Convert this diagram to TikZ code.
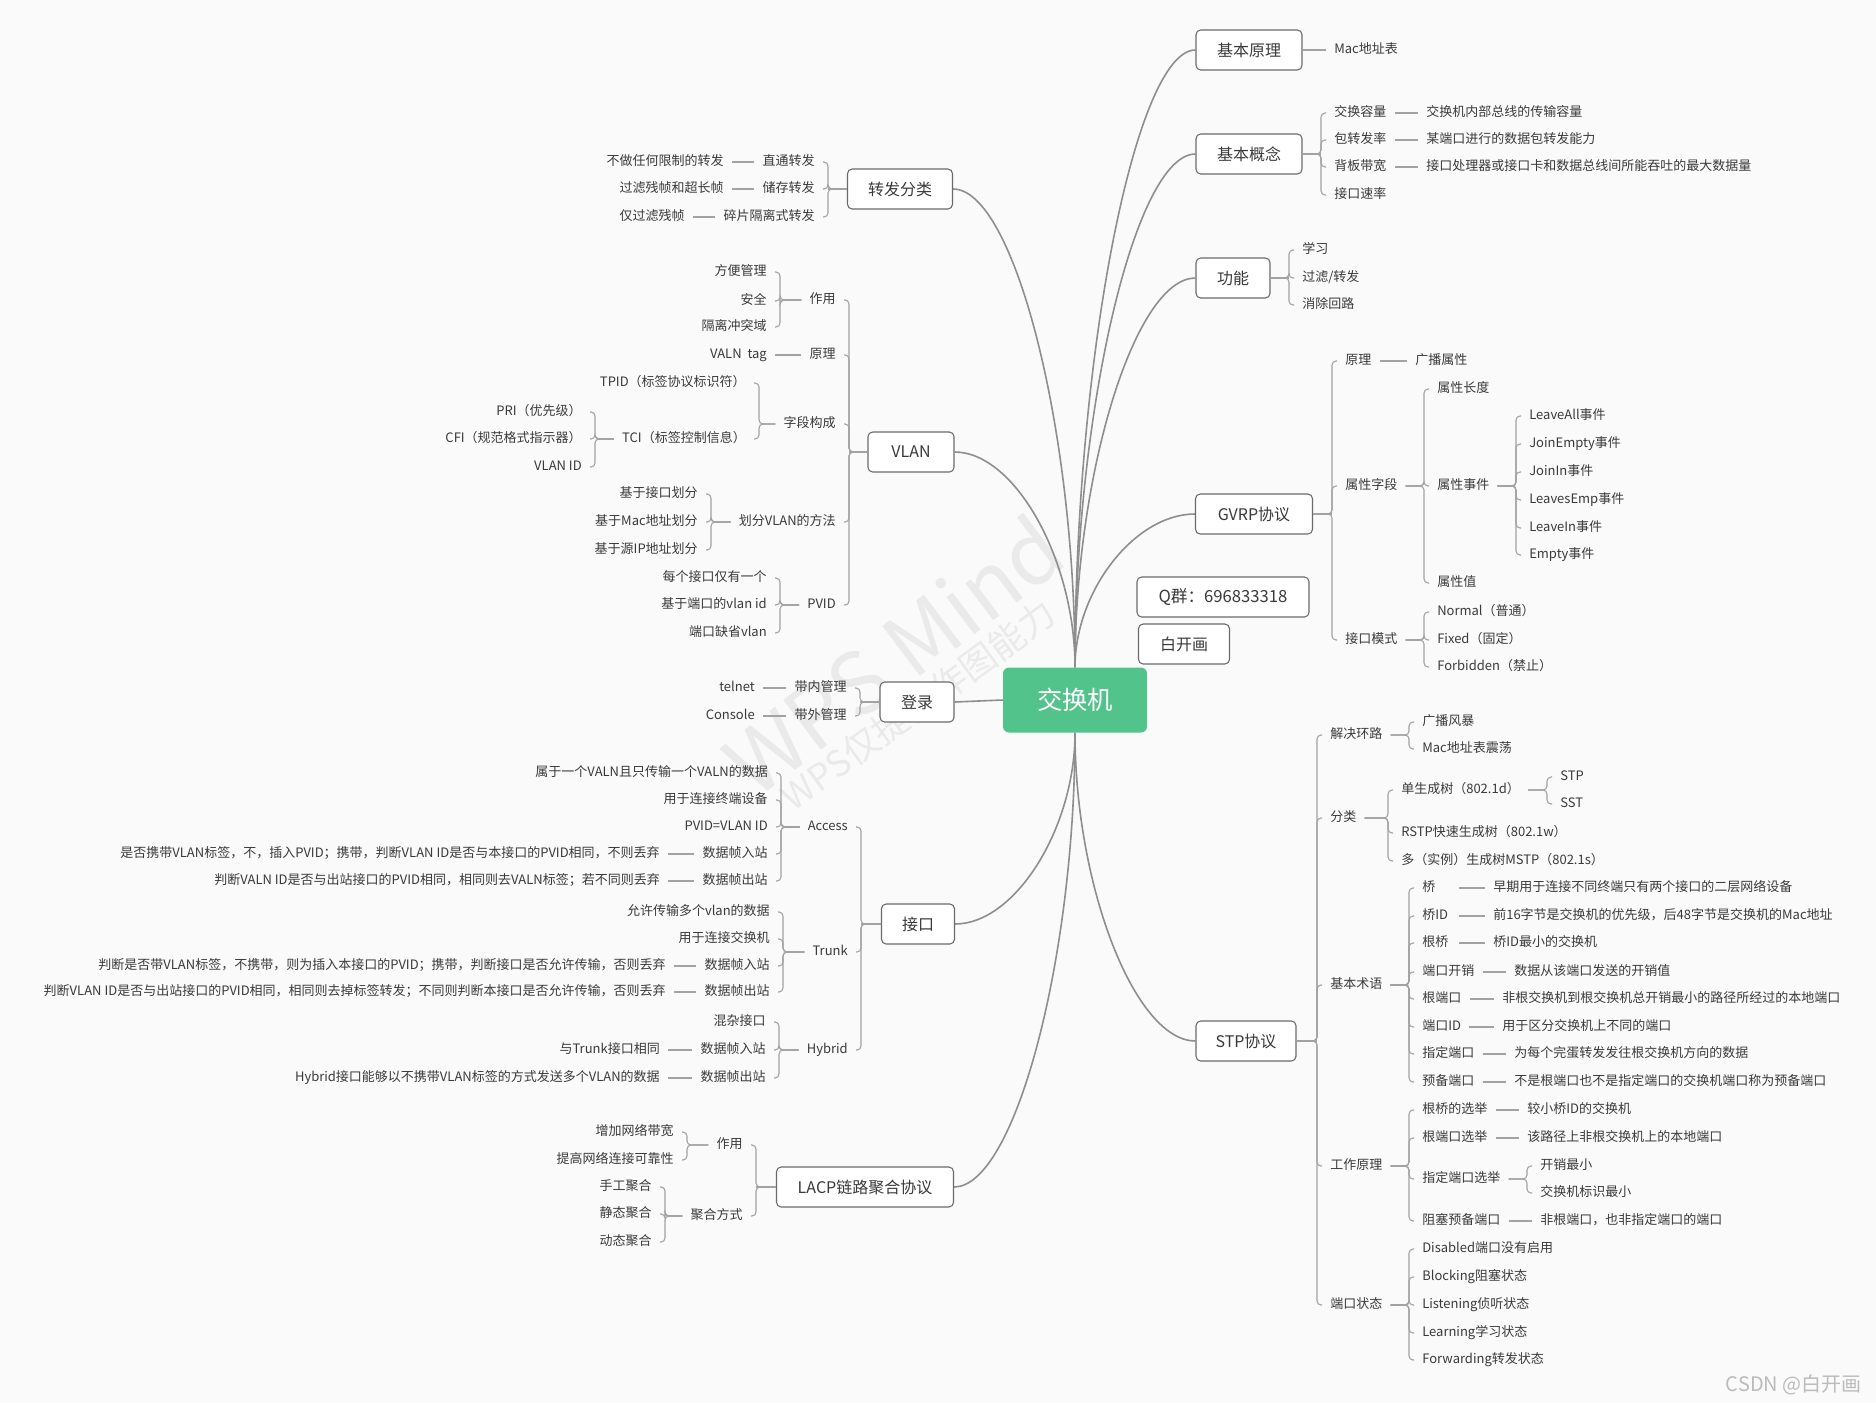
\documentclass[tikz,border=0pt]{standalone}
\usepackage{fontspec}
\setmainfont{Noto Sans CJK SC}
\usepackage{xcolor}
\usepackage{tikz}
\usetikzlibrary{calc}

\definecolor{rootgreen}{HTML}{52C38B}
\definecolor{linegray}{HTML}{8E8E8E}
\definecolor{linklight}{HTML}{A2A2A2}
\definecolor{txtgray}{HTML}{3A3A3A}
\definecolor{boxgray}{HTML}{6A6A6A}
\definecolor{bggray}{HTML}{FAFAFA}
\definecolor{markgray}{HTML}{EAEAEA}
\definecolor{csdngray}{HTML}{BBBBBB}

\begin{document}
\begin{tikzpicture}[
    x=0.75pt, y=-0.75pt,
    rootnode/.style={rectangle, rounded corners=4.5pt, fill=rootgreen, text=white, minimum width=108pt, minimum height=48.75pt, font=\fontsize{19}{22}\selectfont},
    topic/.style={rectangle, rounded corners=3.5pt, draw=boxgray, line width=0.8pt, fill=white, text=txtgray, minimum height=30pt, font=\fontsize{12}{14}\selectfont},
    leaf/.style={inner sep=0pt, text=txtgray, text height=7.6pt, text depth=2.2pt, font=\fontsize{9.75}{12}\selectfont},
    rt/.style={leaf, anchor=west},
    lt/.style={leaf, anchor=east},
    wmark/.style={text=markgray, inner sep=0pt},
    branch/.style={draw=linegray, line width=1.2pt},
    link/.style={draw=linklight, line width=0.8pt, rounded corners=3pt, shorten >=6pt},
    fromleaf/.style={shorten <=6pt},
    rbrk/.style={link, to path={-| ($(\tikztotarget)+(-13,0)$) -- (\tikztotarget)}},
    lbrk/.style={link, to path={-| ($(\tikztotarget)+(13,0)$) -- (\tikztotarget)}},
    rstub/.style={draw=linklight, line width=1.6pt, to path={let \p1=(\tikztotarget), \p2=(\tikztostart) in -- (\x1-9.75pt,\y2)}},
    lstub/.style={draw=linklight, line width=1.6pt, to path={let \p1=(\tikztotarget), \p2=(\tikztostart) in -- (\x1+9.75pt,\y2)}},
    mind/.style={branch, to path={.. controls ($(\tikztostart)!0.5!(\tikztostart|-\tikztotarget)$) and ($(\tikztotarget)!0.5!(\tikztotarget-|\tikztostart)$) .. (\tikztotarget)}}
]

\useasboundingbox (0,0) rectangle (1876,1403);
\fill[bggray] (0,0) rectangle (1876,1403);

% Watermarks :
\node[wmark, rotate=37, font=\fontsize{64}{70}\selectfont] (wm) at (893,655) {WPS Mind};
\node[wmark, rotate=36, font=\fontsize{27}{30}\selectfont] (wmsub) at (918,705) {WPS仅提供作图能力};
\node[anchor=east, inner sep=0pt, text=csdngray, font=\fontsize{15}{18}\selectfont] (csdn) at (1862,1385) {CSDN @白开画};

% Topics :
\node[rootnode] (root) at (1075,700) {交换机};
\node[topic, minimum width=79.5pt] (jbyl) at (1249,50) {基本原理};
\node[topic, minimum width=79.5pt] (jbgn) at (1249,154) {基本概念};
\node[topic, minimum width=55.5pt] (gn) at (1233,278) {功能};
\node[topic, minimum width=87.75pt] (gvrp) at (1254,514) {GVRP协议};
\node[topic, minimum width=75pt] (stp) at (1246,1041) {STP协议};
\node[topic, minimum width=129pt, font=\fontsize{12.5}{14}\selectfont] (qq) at (1223,597) {Q群：696833318};
\node[topic, minimum width=68.25pt] (bkh) at (1184,644) {白开画};
\node[topic, minimum width=78.75pt] (zffl) at (900,189) {转发分类};
\node[topic, minimum width=64.5pt] (vlan) at (911,452) {VLAN};
\node[topic, minimum width=55.5pt] (dl) at (917,702) {登录};
\node[topic, minimum width=54.75pt] (jk) at (918,924) {接口};
\node[topic, minimum width=132.75pt] (lacp) at (865,1187) {LACP链路聚合协议};

% Right side :
\node[rt] (mac) at (1334,50) {Mac地址表};

\node[rt] (jhrl) at (1334,113) {交换容量};
\node[rt] (bzfl) at (1334,140) {包转发率};
\node[rt] (bbdk) at (1334,167) {背板带宽};
\node[rt] (jksl) at (1334,195) {接口速率};
\node[rt] (jhrld) at (1426,113) {交换机内部总线的传输容量};
\node[rt] (bzfld) at (1426,140) {某端口进行的数据包转发能力};
\node[rt] (bbdkd) at (1426,167) {接口处理器或接口卡和数据总线间所能吞吐的最大数据量};

\node[rt] (xx) at (1302,250) {学习};
\node[rt] (glzf) at (1302,278) {过滤/转发};
\node[rt] (xchl) at (1302,305) {消除回路};

\node[rt] (gyl) at (1345,361) {原理};
\node[rt] (gbsx) at (1415,361) {广播属性};
\node[rt] (sxzd) at (1345,486) {属性字段};
\node[rt] (sxcd) at (1437,389) {属性长度};
\node[rt] (sxsj) at (1437,486) {属性事件};
\node[rt] (sxz) at (1437,583) {属性值};
\node[rt] (ev1) at (1529,416) {LeaveAll事件};
\node[rt] (ev2) at (1529,444) {JoinEmpty事件};
\node[rt] (ev3) at (1529,472) {JoinIn事件};
\node[rt] (ev4) at (1529,500) {LeavesEmp事件};
\node[rt] (ev5) at (1529,528) {LeaveIn事件};
\node[rt] (ev6) at (1529,555) {Empty事件};
\node[rt] (jkms) at (1345,640) {接口模式};
\node[rt] (normal) at (1437,612) {Normal（普通）};
\node[rt] (fixed) at (1437,640) {Fixed（固定）};
\node[rt] (forbid) at (1437,667) {Forbidden（禁止）};

\node[rt] (jjhl) at (1330,735) {解决环路};
\node[rt] (gbfb) at (1422,722) {广播风暴};
\node[rt] (mzd) at (1422,749) {Mac地址表震荡};
\node[rt] (fl) at (1330,818) {分类};
\node[rt] (dscs) at (1401,790) {单生成树（802.1d）};
\node[rt] (stpa) at (1560,777) {STP};
\node[rt] (sst) at (1560,804) {SST};
\node[rt] (rstp) at (1401,833) {RSTP快速生成树（802.1w）};
\node[rt] (mstp) at (1401,861) {多（实例）生成树MSTP（802.1s）};
\node[rt] (jbsy) at (1330,985) {基本术语};
\node[rt, text width=21pt, align=left] (qiao) at (1422,888) {桥};
\node[rt, text width=21pt, align=left] (qid) at (1422,916) {桥ID};
\node[rt, text width=21pt, align=left] (gq) at (1422,943) {根桥};
\node[rt] (dkkx) at (1422,972) {端口开销};
\node[rt] (gdk) at (1422,999) {根端口};
\node[rt] (dkid) at (1422,1027) {端口ID};
\node[rt] (zddk) at (1422,1054) {指定端口};
\node[rt] (ybdk) at (1422,1082) {预备端口};
\node[rt] (qiaod) at (1493,888) {早期用于连接不同终端只有两个接口的二层网络设备};
\node[rt] (qidd) at (1493,916) {前16字节是交换机的优先级，后48字节是交换机的Mac地址};
\node[rt] (gqd) at (1493,943) {桥ID最小的交换机};
\node[rt] (dkkxd) at (1514,972) {数据从该端口发送的开销值};
\node[rt] (gdkd) at (1502,999) {非根交换机到根交换机总开销最小的路径所经过的本地端口};
\node[rt] (dkidd) at (1502,1027) {用于区分交换机上不同的端口};
\node[rt] (zddkd) at (1514,1054) {为每个完蛋转发发往根交换机方向的数据};
\node[rt] (ybdkd) at (1514,1082) {不是根端口也不是指定端口的交换机端口称为预备端口};
\node[rt] (gzyl) at (1330,1166) {工作原理};
\node[rt] (gqxj) at (1422,1110) {根桥的选举};
\node[rt] (gdxj) at (1422,1138) {根端口选举};
\node[rt] (zdxj) at (1422,1179) {指定端口选举};
\node[rt] (zsyb) at (1422,1221) {阻塞预备端口};
\node[rt] (gqxjd) at (1527,1110) {较小桥ID的交换机};
\node[rt] (gdxjd) at (1527,1138) {该路径上非根交换机上的本地端口};
\node[rt] (kxzx) at (1540,1166) {开销最小};
\node[rt] (bszx) at (1540,1193) {交换机标识最小};
\node[rt] (zsybd) at (1540,1221) {非根端口，也非指定端口的端口};
\node[rt] (dkzt) at (1330,1305) {端口状态};
\node[rt] (st1) at (1422,1249) {Disabled端口没有启用};
\node[rt] (st2) at (1422,1277) {Blocking阻塞状态};
\node[rt] (st3) at (1422,1305) {Listening侦听状态};
\node[rt] (st4) at (1422,1333) {Learning学习状态};
\node[rt] (st5) at (1422,1360) {Forwarding转发状态};

% Left side :
\node[lt] (ztzf) at (815,162) {直通转发};
\node[lt] (cczf) at (815,189) {储存转发};
\node[lt] (sppl) at (815,217) {碎片隔离式转发};
\node[lt] (ztzfd) at (724,162) {不做任何限制的转发};
\node[lt] (cczfd) at (724,189) {过滤残帧和超长帧};
\node[lt] (sppld) at (685,217) {仅过滤残帧};

\node[lt] (vzy) at (836,300) {作用};
\node[lt] (vyl) at (836,355) {原理};
\node[lt] (zdgc) at (836,424) {字段构成};
\node[lt] (hfff) at (836,522) {划分VLAN的方法};
\node[lt] (pvid) at (836,605) {PVID};
\node[lt] (fbgl) at (767,272) {方便管理};
\node[lt] (aq) at (767,301) {安全};
\node[lt] (glct) at (767,327) {隔离冲突域};
\node[lt] (vtag) at (767,355) {VALN~~tag};
\node[lt] (tpid) at (746,383) {TPID（标签协议标识符）};
\node[lt] (tci) at (746,439) {TCI（标签控制信息）};
\node[lt] (pri) at (582,412) {PRI（优先级）};
\node[lt] (cfi) at (582,439) {CFI（规范格式指示器）};
\node[lt] (vid) at (582,467) {VLAN ID};
\node[lt] (jyjk) at (698,494) {基于接口划分};
\node[lt] (jymac) at (698,522) {基于Mac地址划分};
\node[lt] (jyip) at (698,550) {基于源IP地址划分};
\node[lt] (mgjk) at (767,578) {每个接口仅有一个};
\node[lt] (jydk) at (767,605) {基于端口的vlan id};
\node[lt] (dkqs) at (767,633) {端口缺省vlan};

\node[lt] (dngl) at (847,688) {带内管理};
\node[lt] (dwgl) at (847,716) {带外管理};
\node[lt] (telnet) at (755,688) {telnet};
\node[lt] (console) at (755,716) {Console};

\node[lt] (access) at (848,827) {Access};
\node[lt] (trunk) at (848,952) {Trunk};
\node[lt] (hybrid) at (848,1050) {Hybrid};
\node[lt] (ac1) at (768,773) {属于一个VALN且只传输一个VALN的数据};
\node[lt] (ac2) at (768,800) {用于连接终端设备};
\node[lt] (ac3) at (768,827) {PVID=VLAN ID};
\node[lt] (ac4) at (768,854) {数据帧入站};
\node[lt] (ac5) at (768,881) {数据帧出站};
\node[lt] (ac4d) at (660,854) {是否携带VLAN标签，不，插入PVID；携带，判断VLAN ID是否与本接口的PVID相同，不则丢弃};
\node[lt] (ac5d) at (660,881) {判断VALN ID是否与出站接口的PVID相同，相同则去VALN标签；若不同则丢弃};
\node[lt] (tr1) at (770,912) {允许传输多个vlan的数据};
\node[lt] (tr2) at (770,939) {用于连接交换机};
\node[lt] (tr3) at (770,966) {数据帧入站};
\node[lt] (tr4) at (770,992) {数据帧出站};
\node[lt] (tr3d) at (666,966) {判断是否带VLAN标签，不携带，则为插入本接口的PVID；携带，判断接口是否允许传输，否则丢弃};
\node[lt] (tr4d) at (666,992) {判断VLAN ID是否与出站接口的PVID相同，相同则去掉标签转发；不同则判断本接口是否允许传输，否则丢弃};
\node[lt] (hy1) at (766,1022) {混杂接口};
\node[lt] (hy2) at (766,1050) {数据帧入站};
\node[lt] (hy3) at (766,1078) {数据帧出站};
\node[lt] (hy2d) at (660,1050) {与Trunk接口相同};
\node[lt] (hy3d) at (660,1078) {Hybrid接口能够以不携带VLAN标签的方式发送多个VLAN的数据};

\node[lt] (lzy) at (743,1145) {作用};
\node[lt] (jhfs) at (743,1216) {聚合方式};
\node[lt] (zjdk) at (674,1132) {增加网络带宽};
\node[lt] (tgkk) at (674,1160) {提高网络连接可靠性};
\node[lt] (sgjh) at (652,1187) {手工聚合};
\node[lt] (jtjh) at (652,1214) {静态聚合};
\node[lt] (dtjh) at (652,1242) {动态聚合};

% Branches :
\draw (root.north) edge[mind] (jbyl.west) edge[mind] (jbgn.west) edge[mind] (gn.west) edge[mind] (gvrp.west)
      edge[mind] (zffl.east) edge[mind] (vlan.east);
\draw (root.south) edge[mind] (stp.west) edge[mind] (jk.east) edge[mind] (lacp.east);
\draw[branch] (root.west) -- (dl.east);

% Links, right :
\draw (jbyl.east) edge[link, line width=1.2pt] (mac.west);
\draw (jbgn.east) edge[rstub] (jhrl.west);
\draw (jbgn.east) edge[rbrk] (jhrl.west) edge[rbrk] (bzfl.west) edge[rbrk] (bbdk.west) edge[rbrk] (jksl.west);
\draw (jhrl.east) edge[link, fromleaf] (jhrld.west);
\draw (bzfl.east) edge[link, fromleaf] (bzfld.west);
\draw (bbdk.east) edge[link, fromleaf] (bbdkd.west);
\draw (gn.east) edge[rstub] (xx.west);
\draw (gn.east) edge[rbrk] (xx.west) edge[rbrk] (glzf.west) edge[rbrk] (xchl.west);

\draw (gvrp.east) edge[rstub] (gyl.west);
\draw (gvrp.east) edge[rbrk] (gyl.west) edge[rbrk] (sxzd.west) edge[rbrk] (jkms.west);
\draw (gyl.east) edge[link, fromleaf] (gbsx.west);
\draw (sxzd.east) edge[rbrk, fromleaf] (sxcd.west) edge[rbrk, fromleaf] (sxsj.west) edge[rbrk, fromleaf] (sxz.west);
\draw (sxsj.east) edge[rbrk, fromleaf] (ev1.west) edge[rbrk, fromleaf] (ev2.west) edge[rbrk, fromleaf] (ev3.west)
      edge[rbrk, fromleaf] (ev4.west) edge[rbrk, fromleaf] (ev5.west) edge[rbrk, fromleaf] (ev6.west);
\draw (jkms.east) edge[rbrk, fromleaf] (normal.west) edge[rbrk, fromleaf] (fixed.west) edge[rbrk, fromleaf] (forbid.west);

\draw (stp.east) edge[rstub] (jjhl.west);
\draw (stp.east) edge[rbrk] (jjhl.west) edge[rbrk] (fl.west) edge[rbrk] (jbsy.west) edge[rbrk] (gzyl.west) edge[rbrk] (dkzt.west);
\draw (jjhl.east) edge[rbrk, fromleaf] (gbfb.west) edge[rbrk, fromleaf] (mzd.west);
\draw (fl.east) edge[rbrk, fromleaf] (dscs.west) edge[rbrk, fromleaf] (rstp.west) edge[rbrk, fromleaf] (mstp.west);
\draw (dscs.east) edge[rbrk, fromleaf] (stpa.west) edge[rbrk, fromleaf] (sst.west);
\draw (jbsy.east) edge[rbrk, fromleaf] (qiao.west) edge[rbrk, fromleaf] (qid.west) edge[rbrk, fromleaf] (gq.west)
      edge[rbrk, fromleaf] (dkkx.west) edge[rbrk, fromleaf] (gdk.west) edge[rbrk, fromleaf] (dkid.west)
      edge[rbrk, fromleaf] (zddk.west) edge[rbrk, fromleaf] (ybdk.west);
\draw (qiao.east) edge[link, fromleaf] (qiaod.west);
\draw (qid.east) edge[link, fromleaf] (qidd.west);
\draw (gq.east) edge[link, fromleaf] (gqd.west);
\draw (dkkx.east) edge[link, fromleaf] (dkkxd.west);
\draw (gdk.east) edge[link, fromleaf] (gdkd.west);
\draw (dkid.east) edge[link, fromleaf] (dkidd.west);
\draw (zddk.east) edge[link, fromleaf] (zddkd.west);
\draw (ybdk.east) edge[link, fromleaf] (ybdkd.west);
\draw (gzyl.east) edge[rbrk, fromleaf] (gqxj.west) edge[rbrk, fromleaf] (gdxj.west) edge[rbrk, fromleaf] (zdxj.west) edge[rbrk, fromleaf] (zsyb.west);
\draw (gqxj.east) edge[link, fromleaf] (gqxjd.west);
\draw (gdxj.east) edge[link, fromleaf] (gdxjd.west);
\draw (zdxj.east) edge[rbrk, fromleaf] (kxzx.west) edge[rbrk, fromleaf] (bszx.west);
\draw (zsyb.east) edge[link, fromleaf] (zsybd.west);
\draw (dkzt.east) edge[rbrk, fromleaf] (st1.west) edge[rbrk, fromleaf] (st2.west) edge[rbrk, fromleaf] (st3.west)
      edge[rbrk, fromleaf] (st4.west) edge[rbrk, fromleaf] (st5.west);

% Links, left :
\draw (zffl.west) edge[lstub] (ztzf.east);
\draw (zffl.west) edge[lbrk] (ztzf.east) edge[lbrk] (cczf.east) edge[lbrk] (sppl.east);
\draw (ztzf.west) edge[link, fromleaf] (ztzfd.east);
\draw (cczf.west) edge[link, fromleaf] (cczfd.east);
\draw (sppl.west) edge[link, fromleaf] (sppld.east);

\draw (vlan.west) edge[lstub] (vzy.east);
\draw (vlan.west) edge[lbrk] (vzy.east) edge[lbrk] (vyl.east) edge[lbrk] (zdgc.east) edge[lbrk] (hfff.east) edge[lbrk] (pvid.east);
\draw (vzy.west) edge[lbrk, fromleaf] (fbgl.east) edge[lbrk, fromleaf] (aq.east) edge[lbrk, fromleaf] (glct.east);
\draw (vyl.west) edge[link, fromleaf] (vtag.east);
\draw (zdgc.west) edge[lbrk, fromleaf] (tpid.east) edge[lbrk, fromleaf] (tci.east);
\draw (tci.west) edge[lbrk, fromleaf] (pri.east) edge[lbrk, fromleaf] (cfi.east) edge[lbrk, fromleaf] (vid.east);
\draw (hfff.west) edge[lbrk, fromleaf] (jyjk.east) edge[lbrk, fromleaf] (jymac.east) edge[lbrk, fromleaf] (jyip.east);
\draw (pvid.west) edge[lbrk, fromleaf] (mgjk.east) edge[lbrk, fromleaf] (jydk.east) edge[lbrk, fromleaf] (dkqs.east);

\draw (dl.west) edge[lstub] (dngl.east);
\draw (dl.west) edge[lbrk] (dngl.east) edge[lbrk] (dwgl.east);
\draw (dngl.west) edge[link, fromleaf] (telnet.east);
\draw (dwgl.west) edge[link, fromleaf] (console.east);

\draw (jk.west) edge[lstub] (access.east);
\draw (jk.west) edge[lbrk] (access.east) edge[lbrk] (trunk.east) edge[lbrk] (hybrid.east);
\draw (access.west) edge[lbrk, fromleaf] (ac1.east) edge[lbrk, fromleaf] (ac2.east) edge[lbrk, fromleaf] (ac3.east)
      edge[lbrk, fromleaf] (ac4.east) edge[lbrk, fromleaf] (ac5.east);
\draw (ac4.west) edge[link, fromleaf] (ac4d.east);
\draw (ac5.west) edge[link, fromleaf] (ac5d.east);
\draw (trunk.west) edge[lbrk, fromleaf] (tr1.east) edge[lbrk, fromleaf] (tr2.east) edge[lbrk, fromleaf] (tr3.east) edge[lbrk, fromleaf] (tr4.east);
\draw (tr3.west) edge[link, fromleaf] (tr3d.east);
\draw (tr4.west) edge[link, fromleaf] (tr4d.east);
\draw (hybrid.west) edge[lbrk, fromleaf] (hy1.east) edge[lbrk, fromleaf] (hy2.east) edge[lbrk, fromleaf] (hy3.east);
\draw (hy2.west) edge[link, fromleaf] (hy2d.east);
\draw (hy3.west) edge[link, fromleaf] (hy3d.east);

\draw (lacp.west) edge[lstub] (lzy.east);
\draw (lacp.west) edge[lbrk] (lzy.east) edge[lbrk] (jhfs.east);
\draw (lzy.west) edge[lbrk, fromleaf] (zjdk.east) edge[lbrk, fromleaf] (tgkk.east);
\draw (jhfs.west) edge[lbrk, fromleaf] (sgjh.east) edge[lbrk, fromleaf] (jtjh.east) edge[lbrk, fromleaf] (dtjh.east);

\end{tikzpicture}
\end{document}
